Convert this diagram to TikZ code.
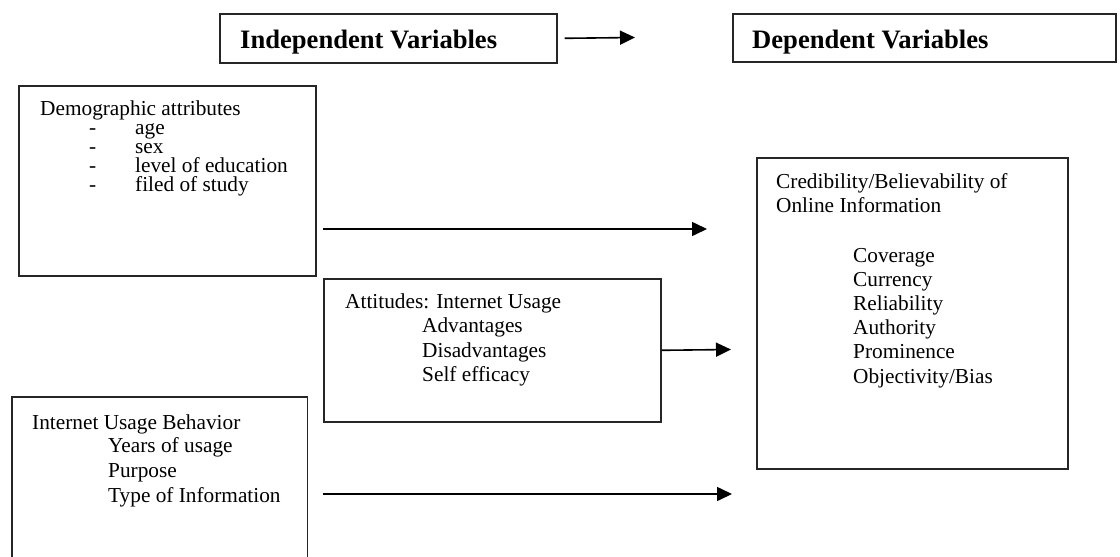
\documentclass[tikz,border=0pt]{standalone}
\usepackage{fontspec}
\setmainfont{Liberation Serif}
\usetikzlibrary{arrows.meta}
\begin{document}
\begin{tikzpicture}[x=1pt,y=-1pt,
  boxline/.style={line width=1.6pt,draw=black!85},
  framebox/.style={boxline,rectangle,inner sep=0pt,anchor=north west},
  txt/.style={anchor=base west,inner sep=0pt,font=\fontsize{21.3}{24}\selectfont},
  head/.style={anchor=base west,inner sep=0pt,font=\fontsize{26.6}{30}\selectfont\bfseries},
  arr/.style={line width=1.6pt,-{Triangle[length=15pt,width=14pt]}}]
\useasboundingbox (0,0) rectangle (1120,557);
% header boxes
\node[framebox,minimum width=337pt,minimum height=49pt] (indep) at (219,13) {};
\node[head] (indeptxt) at (240,48) {Independent Variables};
\node[framebox,minimum width=383pt,minimum height=48pt] (dep) at (732,13) {};
\node[head] (deptxt) at (752,48) {Dependent Variables};
\coordinate (topend) at (635,37.5);
\draw[arr] ([xshift=7pt]indep.east) -- (topend);
% demographic box
\node[framebox,minimum width=297pt,minimum height=190pt] (demo) at (18,85) {};
\node[txt] (demo0) at (40,115) {Demographic attributes};
\node[txt] (d1a) at (89,134) {-};
\node[txt] (d1) at (135,134) {age};
\node[txt] (d2a) at (89,153) {-};
\node[txt] (d2) at (135,153) {sex};
\node[txt] (d3a) at (89,172) {-};
\node[txt] (d3) at (135,172) {level of education};
\node[txt] (d4a) at (89,191) {-};
\node[txt] (d4) at (135,191) {filed of study};
% attitudes box
\node[framebox,minimum width=337pt,minimum height=143pt] (att) at (323,278) {};
\node[txt] (att0) at (345,308) {Attitudes: Internet Usage};
\node[txt] (att1) at (422,332) {Advantages};
\node[txt] (att2) at (422,357) {Disadvantages};
\node[txt] (att3) at (422,381) {Self efficacy};
% internet usage behavior box (open at bottom)
\node[rectangle,inner sep=0pt,anchor=north west,minimum width=295pt,minimum height=160pt] (iub) at (12,397) {};
\draw[boxline] (iub.south west) |- (iub.north east) -- (iub.south east);
\node[txt] (iub0) at (32,429) {Internet Usage Behavior};
\node[txt] (iub1) at (108,452) {Years of usage};
\node[txt] (iub2) at (108,477) {Purpose};
\node[txt] (iub3) at (108,502) {Type of Information};
% credibility box
\node[framebox,minimum width=311pt,minimum height=311pt] (cred) at (756,157) {};
\node[txt] (cred0) at (776,188) {Credibility/Believability of};
\node[txt] (cred1) at (776,212) {Online Information};
\node[txt] (c1) at (853,262) {Coverage};
\node[txt] (c2) at (853,286) {Currency};
\node[txt] (c3) at (853,310) {Reliability};
\node[txt] (c4) at (853,334) {Authority};
\node[txt] (c5) at (853,358) {Prominence};
\node[txt] (c6) at (853,383) {Objectivity/Bias};
% arrows
\coordinate (a1s) at (323,229);
\coordinate (a1e) at (707,229);
\draw[arr] (a1s) -- (a1e);
\coordinate (a2e) at (731,349.5);
\draw[arr] (att.east) -- (a2e);
\coordinate (a3s) at (323,494);
\coordinate (a3e) at (732,494);
\draw[arr] (a3s) -- (a3e);
\end{tikzpicture}
\end{document}
